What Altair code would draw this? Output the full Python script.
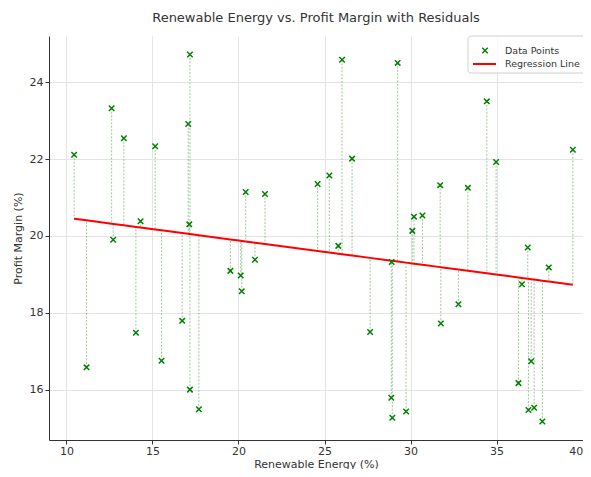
import altair as alt
import numpy as np
import pandas as pd

# ---- data ----
renewable_energy = [10.45, 11.17, 12.63, 12.72, 13.34, 14.04, 14.31, 15.16, 15.53, 16.73,
                    17.08, 17.14, 17.18, 17.18, 17.70, 19.53, 20.13, 20.19, 20.42, 20.96,
                    21.54, 24.60, 25.28, 25.80, 26.02, 26.60, 27.65, 28.88, 28.90, 28.94,
                    29.25, 29.74, 30.10, 30.20, 30.69, 31.72, 31.76, 32.78, 33.33, 34.43,
                    34.97, 36.27, 36.47, 36.81, 36.85, 37.01, 37.18, 37.66, 38.03, 39.43]
profit_margin = [22.11, 16.58, 23.32, 19.90, 22.54, 17.48, 20.38, 22.33, 16.75, 17.79,
                 22.91, 20.30, 24.72, 16.00, 15.49, 19.09, 18.97, 18.56, 21.14, 19.38,
                 21.09, 21.35, 21.57, 19.74, 24.58, 22.01, 17.50, 15.79, 19.32, 15.27,
                 24.50, 15.43, 20.13, 20.50, 20.53, 21.32, 17.72, 18.22, 21.25, 23.50,
                 21.92, 16.17, 18.74, 19.70, 15.47, 16.74, 15.53, 15.17, 19.18, 22.24]
x_ticks = [10, 15, 20, 25, 30, 35, 40]
y_ticks = [16, 18, 20, 22, 24]
legend_labels = ["Data Points", "Regression Line"]

slope, intercept = np.polyfit(renewable_energy, profit_margin, 1)
df = pd.DataFrame({"x": renewable_energy, "y": profit_margin})
df["fit"] = intercept + slope * df["x"]

FONT = "DejaVu Sans"
xscale = alt.Scale(domain=[8.99, 40.02], nice=False, zero=False)
yscale = alt.Scale(domain=[14.69, 25.2], nice=False, zero=False)
xaxis = alt.Axis(values=x_ticks, titlePadding=2, labelPadding=1)
yaxis = alt.Axis(values=y_ticks, titlePadding=6, labelPadding=2)
XT = "Renewable Energy (%)"
YT = "Profit Margin (%)"

base = alt.Chart(df)

residuals = base.mark_rule(color="#4c9a4c", opacity=0.55, strokeDash=[2, 1.5], strokeWidth=1).encode(
    x=alt.X("x:Q", scale=xscale, axis=xaxis, title=XT),
    y=alt.Y("y:Q", scale=yscale, axis=yaxis, title=YT),
    y2="fit:Q",
)

reg_line = base.mark_line(color="red", strokeWidth=2).encode(
    x=alt.X("x:Q", scale=xscale, axis=xaxis, title=XT),
    y=alt.Y("fit:Q", scale=yscale, axis=yaxis, title=YT),
)

points = base.mark_point(
    shape="M-1,-1L1,1M-1,1L1,-1", filled=False, color="green",
    size=30, strokeWidth=1.5, opacity=1,
).encode(
    x=alt.X("x:Q", scale=xscale, axis=xaxis, title=XT),
    y=alt.Y("y:Q", scale=yscale, axis=yaxis, title=YT),
)

# ---- manual legend ----
one = alt.Chart(pd.DataFrame({"a": [0]}))
leg_box = one.mark_rect(fill="white", fillOpacity=0.8, stroke="#d0d0d0", strokeWidth=1, cornerRadius=3).encode(
    x=alt.value(419), x2=alt.value(540), y=alt.value(0), y2=alt.value(37)
)
leg_marker = one.mark_point(
    shape="M-1,-1L1,1M-1,1L1,-1", filled=False, color="green", size=30, strokeWidth=1.5, opacity=1
).encode(x=alt.value(436), y=alt.value(14.5))
leg_line = one.mark_rule(color="red", strokeWidth=2).encode(
    x=alt.value(424), x2=alt.value(447), y=alt.value(28)
)
leg_text1 = one.mark_text(align="left", baseline="middle", fontSize=9.5, font=FONT, color="#333").encode(
    x=alt.value(456), y=alt.value(14.5), text=alt.value(legend_labels[0])
)
leg_text2 = one.mark_text(align="left", baseline="middle", fontSize=9.5, font=FONT, color="#333").encode(
    x=alt.value(456), y=alt.value(28), text=alt.value(legend_labels[1])
)

chart = alt.layer(
    residuals, reg_line, points, leg_box, leg_marker, leg_line, leg_text1, leg_text2
).properties(
    width=534,
    height=404,
    autosize=alt.AutoSizeParams(type="none"),
    padding={"left": 41, "top": 28, "right": 0, "bottom": 29},
    title=alt.TitleParams(
        "Renewable Energy vs. Profit Margin with Residuals",
        fontSize=13, fontWeight="normal", color="#333", font=FONT, offset=11, anchor="middle",
    ),
).configure_view(stroke=None).configure_axis(
    grid=True, gridColor="#e4e4e4", domainColor="#333", tickColor="#333",
    labelColor="#333", titleColor="#333", labelFont=FONT, titleFont=FONT,
    labelFontSize=11, titleFontSize=11, titleFontWeight="normal", tickSize=4,
)

chart.save("out.html", embed_options={"renderer": "svg", "actions": False})
